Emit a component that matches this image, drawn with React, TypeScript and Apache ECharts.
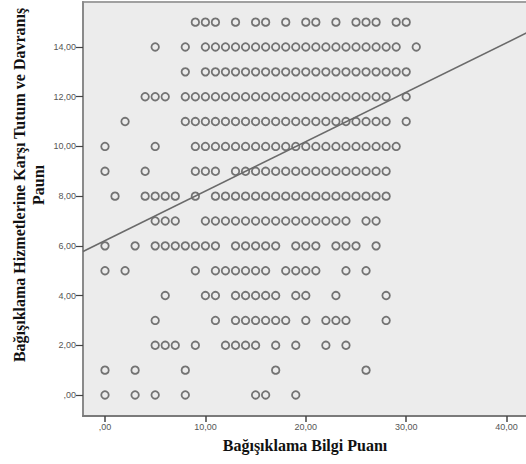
import React, { useEffect, useRef } from "react";
import * as echarts from "echarts";

// Knowledge score (x) values present at each attitude score (y) row
const rowY15 = [9, 10, 11, 13, 15, 16, 18, 20, 21, 23, 25, 26, 27, 29, 30];
const rowY14 = [5, 8, 10, 11, 12, 13, 14, 15, 16, 17, 18, 19, 20, 21, 22, 23, 24, 25, 26, 27, 28, 29, 31];
const rowY13 = [8, 10, 11, 12, 13, 14, 15, 16, 17, 18, 19, 20, 21, 22, 23, 24, 25, 26, 27, 28, 29, 30];
const rowY12 = [4, 5, 6, 8, 9, 10, 11, 12, 13, 14, 15, 16, 17, 18, 19, 20, 21, 22, 23, 24, 25, 26, 27, 28, 30];
const rowY11 = [2, 8, 9, 10, 11, 12, 13, 14, 15, 16, 17, 18, 19, 20, 21, 22, 23, 24, 25, 26, 27, 28, 30];
const rowY10 = [0, 5, 9, 10, 11, 12, 13, 14, 15, 16, 17, 18, 19, 20, 21, 22, 23, 24, 25, 26, 27, 28, 29];
const rowY9 = [0, 4, 9, 10, 11, 13, 14, 15, 16, 17, 18, 19, 20, 21, 22, 23, 24, 25, 26, 27, 28];
const rowY8 = [1, 4, 5, 6, 7, 9, 11, 12, 13, 14, 15, 16, 17, 18, 19, 20, 21, 22, 23, 24, 25, 26, 27, 28];
const rowY7 = [5, 6, 7, 10, 11, 12, 13, 14, 15, 16, 17, 18, 19, 20, 21, 22, 23, 24, 26, 27];
const rowY6 = [0, 3, 5, 6, 7, 8, 9, 10, 11, 13, 14, 15, 16, 17, 19, 20, 21, 23, 24, 25, 27];
const rowY5 = [0, 2, 9, 11, 12, 13, 14, 15, 16, 18, 19, 20, 21, 24, 26];
const rowY4 = [6, 10, 11, 13, 14, 15, 16, 17, 19, 20, 23, 28];
const rowY3 = [5, 11, 13, 14, 15, 16, 17, 18, 20, 22, 23, 24, 28];
const rowY2 = [5, 6, 7, 9, 12, 13, 14, 15, 17, 19, 22, 24];
const rowY1 = [0, 3, 8, 17, 26];
const rowY0 = [0, 3, 5, 8, 15, 16, 19];

const rows: [number, number[]][] = [
  [15, rowY15], [14, rowY14], [13, rowY13], [12, rowY12], [11, rowY11], [10, rowY10],
  [9, rowY9], [8, rowY8], [7, rowY7], [6, rowY6], [5, rowY5], [4, rowY4],
  [3, rowY3], [2, rowY2], [1, rowY1], [0, rowY0],
];

// Fit line
const fitIntercept = 6.21;
const fitSlope = 0.199;

const xTicks = [0, 10, 20, 30, 40];
const yTicks = [0, 2, 4, 6, 8, 10, 12, 14];

const xMin = -2.19;
const xMax = 42.23;
const yMin = -0.845;
const yMax = 15.81;

const xTitle = "Bağışıklama Bilgi Puanı";
const yTitle = "Bağışıklama Hizmetlerine Karşı Tutum ve Davranış\nPaunı";

const fmt = (v: number) => (v === 0 ? ",00" : v.toFixed(2).replace(".", ","));

export default function App() {
  const ref = useRef<HTMLDivElement>(null);
  useEffect(() => {
    if (!ref.current) return;
    const chart = echarts.init(ref.current, undefined, { renderer: "svg" });
    const points: number[][] = [];
    rows.forEach(([y, xs]) => xs.forEach((x) => points.push([x, y])));
    const labelFont = { fontFamily: "Liberation Sans Narrow, Liberation Sans, Arial, sans-serif", fontSize: 9, color: "#555" };
    chart.setOption({
      animation: false,
      grid: {
        left: 83,
        top: 2,
        right: -3,
        bottom: 48,
        show: true,
        backgroundColor: "#ececec",
        borderColor: "#a0a0a0",
        borderWidth: 2,
        containLabel: false,
        outerBoundsMode: "none",
      },
      xAxis: {
        type: "value",
        min: xMin,
        max: xMax,
        splitLine: { show: false },
        axisLine: { show: true, onZero: false, lineStyle: { color: "#7a7a7a", width: 2 } },
        axisTick: { show: true, customValues: xTicks, length: 6, lineStyle: { color: "#444", width: 1.5 } },
        axisLabel: { customValues: xTicks, formatter: fmt, margin: 6, ...labelFont },
      },
      yAxis: {
        type: "value",
        min: yMin,
        max: yMax,
        splitLine: { show: false },
        axisLine: { show: true, onZero: false, lineStyle: { color: "#8a8a8a", width: 2 } },
        axisTick: { show: true, customValues: yTicks, length: 7, lineStyle: { color: "#444", width: 1.2 } },
        axisLabel: { customValues: yTicks, formatter: fmt, margin: 7, ...labelFont },
      },
      series: [
        {
          type: "scatter",
          data: points,
          symbol: "circle",
          symbolSize: 7.5,
          itemStyle: { color: "rgba(0,0,0,0)", borderColor: "#555", borderWidth: 1.8 },
        },
        {
          type: "line",
          data: [
            [xMin, fitIntercept + fitSlope * xMin],
            [xMax, fitIntercept + fitSlope * xMax],
          ],
          showSymbol: false,
          clip: true,
          lineStyle: { color: "#6a6a6a", width: 1.6 },
          z: 3,
        },
      ],
      graphic: [
        {
          type: "text",
          x: 305,
          y: 445,
          style: {
            text: xTitle,
            fontFamily: "Liberation Serif, Times New Roman, serif",
            fontWeight: "bold",
            fontSize: 16,
            fill: "#111",
            align: "center",
            verticalAlign: "middle",
          },
        },
        {
          type: "text",
          x: 29,
          y: 185,
          rotation: Math.PI / 2,
          style: {
            text: yTitle,
            fontFamily: "Liberation Serif, Times New Roman, serif",
            fontWeight: "bold",
            fontSize: 16,
            lineHeight: 19,
            fill: "#111",
            align: "center",
            verticalAlign: "middle",
          },
        },
      ],
    });
    return () => chart.dispose();
  }, []);
  return (
    <div
      ref={ref}
      style={{ position: "absolute", left: 0, top: 0, width: 526, height: 464, background: "#fff" }}
    />
  );
}
